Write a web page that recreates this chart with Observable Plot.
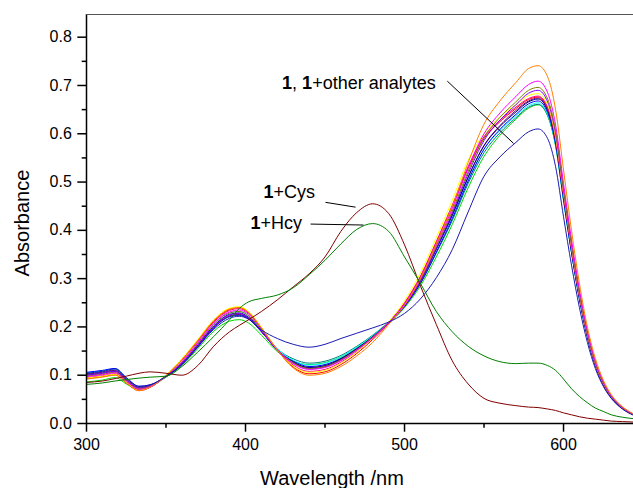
<!DOCTYPE html>
<html><head><meta charset="utf-8">
<script src="https://cdn.jsdelivr.net/npm/d3@7"></script>
<script src="https://cdn.jsdelivr.net/npm/@observablehq/plot@0.6"></script>
<style>body{margin:0;background:#fff;} #chart svg{display:block;}</style>
</head><body><div id="chart"></div>
<script>
// ---------- data ----------
const wavelength = [300,310,318,325,333,340,350,360,370,380,390,396,402,410,420,430,440,450,460,470,480,490,500,510,520,530,540,550,560,570,578,584,590,595,600,605,610,615,620,625,630,637,644];

const seriesNames  = ["green","darkcyan","cyan","blue","purple","navy","red","pink","yellow","violet","olive","magenta","orange","royal","Cys","Hcy"];
const seriesColors = ["#00d800","#008080","#00ffff","#0000ff","#800080","#000080","#ff0000","#ff0080","#ffff00","#8000ff","#808000","#ff00ff","#ff8000","#1a1ab0","#800000","#008000"];

const absGreen    = [.086,.090,.095,.082,.070,.076,.096,.120,.155,.191,.212,.215,.208,.183,.149,.129,.122,.126,.138,.157,.180,.207,.240,.285,.345,.412,.488,.553,.597,.630,.653,.660,.637,.575,.462,.354,.258,.180,.121,.081,.054,.032,.018];
const absDarkCyan = [.103,.107,.111,.093,.076,.079,.097,.123,.160,.198,.221,.224,.216,.190,.154,.134,.125,.129,.141,.160,.183,.210,.243,.290,.353,.420,.497,.561,.602,.633,.655,.661,.638,.576,.463,.355,.258,.180,.121,.081,.054,.032,.018];
const absCyan     = [.105,.109,.113,.094,.076,.079,.098,.127,.166,.205,.229,.232,.223,.195,.155,.131,.121,.125,.138,.158,.182,.211,.246,.295,.360,.428,.505,.568,.607,.637,.658,.664,.640,.578,.464,.356,.259,.180,.121,.081,.054,.032,.018];
const absBlue     = [.106,.110,.114,.095,.077,.080,.097,.122,.159,.198,.222,.225,.217,.190,.152,.129,.118,.122,.135,.155,.179,.208,.242,.290,.355,.424,.502,.568,.609,.640,.662,.668,.644,.580,.465,.355,.258,.179,.120,.080,.054,.031,.018];
const absPurple   = [.102,.106,.110,.092,.075,.079,.098,.124,.161,.200,.223,.226,.218,.191,.152,.127,.115,.119,.133,.154,.179,.209,.244,.294,.361,.431,.510,.576,.617,.648,.668,.674,.650,.587,.472,.361,.263,.183,.123,.082,.055,.032,.018];
const absNavy     = [.100,.104,.108,.090,.073,.078,.098,.125,.163,.202,.226,.229,.220,.192,.152,.127,.116,.120,.134,.155,.180,.210,.245,.295,.362,.432,.510,.575,.615,.645,.666,.672,.648,.585,.470,.360,.262,.182,.122,.082,.055,.032,.018];
const absRed      = [.093,.097,.101,.084,.068,.075,.100,.133,.172,.212,.236,.240,.230,.198,.152,.117,.103,.107,.122,.145,.174,.207,.248,.303,.374,.449,.528,.590,.625,.652,.671,.676,.653,.589,.474,.363,.264,.184,.123,.082,.055,.032,.018];
const absPink     = [.095,.099,.103,.086,.070,.075,.099,.131,.170,.210,.234,.238,.228,.197,.153,.121,.108,.112,.127,.149,.177,.209,.250,.305,.377,.452,.532,.594,.628,.655,.673,.678,.655,.590,.475,.364,.265,.184,.123,.083,.056,.032,.018];
const absYellow   = [.094,.098,.102,.085,.069,.076,.100,.134,.174,.215,.239,.242,.232,.199,.153,.119,.106,.110,.125,.148,.177,.211,.254,.312,.385,.462,.545,.600,.635,.660,.679,.683,.660,.594,.478,.366,.266,.185,.124,.083,.056,.033,.018];
const absViolet   = [.100,.104,.108,.090,.073,.078,.098,.125,.162,.201,.225,.228,.219,.191,.151,.125,.113,.117,.131,.152,.178,.208,.244,.295,.363,.436,.517,.586,.628,.660,.684,.690,.666,.601,.483,.370,.269,.187,.125,.084,.056,.033,.019];
const absOlive    = [.098,.102,.106,.089,.072,.077,.098,.127,.165,.205,.229,.232,.223,.194,.153,.126,.114,.118,.132,.153,.179,.209,.246,.298,.367,.440,.522,.592,.634,.666,.690,.696,.672,.606,.487,.373,.271,.188,.126,.085,.057,.033,.019];
const absMagenta  = [.097,.101,.105,.088,.071,.076,.098,.128,.167,.207,.231,.235,.226,.196,.153,.124,.112,.116,.130,.152,.178,.209,.247,.300,.370,.445,.530,.600,.643,.677,.702,.709,.685,.618,.497,.381,.277,.192,.129,.087,.058,.034,.019];
const absOrange   = [.092,.096,.100,.084,.068,.075,.099,.132,.172,.213,.237,.240,.230,.198,.152,.115,.100,.104,.118,.140,.168,.205,.245,.300,.372,.450,.540,.620,.668,.706,.735,.741,.718,.650,.525,.400,.290,.200,.135,.090,.060,.035,.020];
const absRoyal    = [.104,.108,.113,.095,.077,.080,.098,.122,.158,.195,.218,.222,.216,.194,.176,.164,.158,.164,.176,.187,.198,.210,.228,.258,.302,.360,.438,.512,.552,.582,.604,.610,.590,.532,.428,.328,.240,.168,.114,.077,.052,.030,.017];
const absCys      = [.085,.088,.093,.098,.104,.107,.104,.100,.120,.160,.190,.203,.215,.232,.256,.283,.310,.345,.398,.437,.455,.435,.370,.285,.205,.130,.082,.052,.042,.037,.034,.033,.030,.027,.022,.018,.014,.011,.009,.007,.005,.004,.003];
const absHcy      = [.081,.084,.088,.091,.094,.096,.098,.118,.148,.180,.215,.238,.252,.259,.266,.281,.308,.338,.372,.402,.414,.398,.345,.290,.232,.190,.160,.140,.128,.124,.125,.125,.120,.110,.092,.072,.056,.043,.032,.025,.018,.013,.010];

const seriesValues = [absGreen,absDarkCyan,absCyan,absBlue,absPurple,absNavy,absRed,absPink,absYellow,absViolet,absOlive,absMagenta,absOrange,absRoyal,absCys,absHcy];

const xMajorTicks = [300,400,500,600];
const xMinorTicks = [350,450,550];
const yMajorTicks = [0,0.1,0.2,0.3,0.4,0.5,0.6,0.7,0.8];
const yMinorTicks = [0.05,0.15,0.25,0.35,0.45,0.55,0.65,0.75];

const xTitle = "Wavelength /nm";
const yTitle = "Absorbance";

const labelText = ["1, 1+other analytes","1+Cys","1+Hcy"];
const labelX = [423, 411.3, 403.1];
const labelY = [0.704, 0.478, 0.414];
const leaderX1 = [526.9, 450.3, 440.9];
const leaderY1 = [0.709, 0.458, 0.413];
const leaderX2 = [568.6, 469.2, 474.2];
const leaderY2 = [0.580, 0.448, 0.411];

// ---------- build ----------
const rows = [];
seriesNames.forEach((name, si) => {
  wavelength.forEach((w, i) => rows.push({series: name, color: seriesColors[si], wavelength: w, absorbance: seriesValues[si][i]}));
});
const labels = labelText.map((t, i) => ({text: t, x: labelX[i], y: labelY[i], x1: leaderX1[i], y1: leaderY1[i], x2: leaderX2[i], y2: leaderY2[i]}));

const lineMarks = seriesNames.map(name =>
  Plot.line(rows.filter(r => r.series === name), {x: "wavelength", y: "absorbance", stroke: d => d.color, strokeWidth: 1, curve: "monotone-x"})
);

const chart = Plot.plot({
  width: 633,
  height: 488,
  marginLeft: 86,
  marginRight: 0,
  marginTop: 14,
  marginBottom: 65,
  style: {fontFamily: "'Liberation Sans', Arial, sans-serif", fontSize: "16px", background: "#fff", color: "#000", overflow: "visible"},
  x: {domain: [300, 644], label: null},
  y: {domain: [0, 0.847], label: null},
  color: {type: "identity"},
  marks: [
    ...lineMarks,
    Plot.link(labels, {x1: "x1", y1: "y1", x2: "x2", y2: "y2", stroke: "#000", strokeWidth: 1}),
    Plot.text(labels, {x: "x", y: "y", text: "text", textAnchor: "start", lineAnchor: "middle", fontSize: 18, fill: "#000"}),
    Plot.ruleX([300], {stroke: "#000", strokeWidth: 1.5}),
    Plot.ruleY([0], {stroke: "#000", strokeWidth: 1.5}),
    Plot.ruleY([0.847], {stroke: "#555", strokeWidth: 1.2}),
    Plot.axisX(xMajorTicks, {tickSize: 8.7, tickPadding: 6, strokeWidth: 1.5, tickFormat: d => String(d), label: null, fontSize: 16}),
    Plot.axisX(xMinorTicks, {tickSize: 4.7, strokeWidth: 1.5, tickFormat: () => "", label: null}),
    Plot.axisY(yMajorTicks, {tickSize: 8.7, tickPadding: 6, strokeWidth: 1.5, tickFormat: d3.format(".1f"), label: null, fontSize: 16}),
    Plot.axisY(yMinorTicks, {tickSize: 4.3, strokeWidth: 1.5, tickFormat: () => "", label: null}),
    Plot.text([yTitle], {text: d => d, frameAnchor: "left", rotate: -90, textAnchor: "middle", lineAnchor: "middle", dx: -64, dy: 4, fontSize: 20}),
    Plot.text([xTitle], {text: d => d, frameAnchor: "bottom", textAnchor: "middle", lineAnchor: "middle", dx: -28, dy: 55, fontSize: 20})
  ]
});

// bold the compound number "1" in annotation labels
chart.querySelectorAll("text").forEach(t => {
  if (labelText.includes(t.textContent)) {
    const parts = t.textContent.split(/(1)/).filter(p => p !== "");
    t.textContent = "";
    parts.forEach(p => {
      const ts = document.createElementNS("http://www.w3.org/2000/svg", "tspan");
      if (p === "1") ts.setAttribute("font-weight", "bold");
      ts.textContent = p;
      t.appendChild(ts);
    });
  }
});

document.getElementById("chart").appendChild(chart);
</script>
</body></html>
